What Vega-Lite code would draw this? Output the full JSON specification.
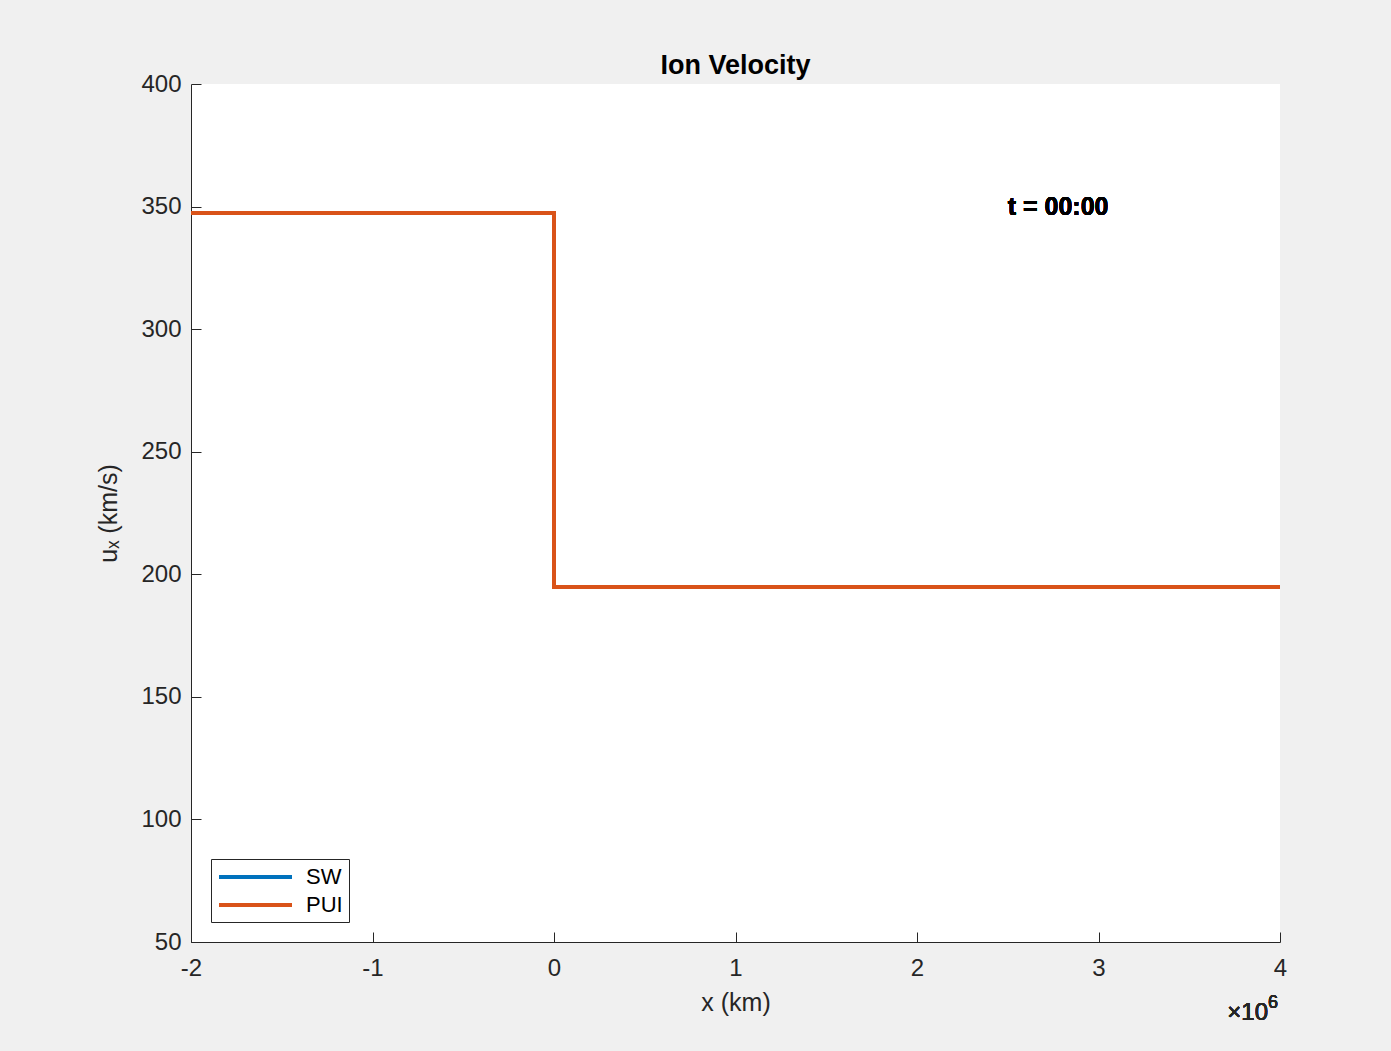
{
  "$schema": "https://vega.github.io/schema/vega-lite/v6.json",
  "width": 1089,
  "height": 858,
  "autosize": {"type": "none"},
  "padding": {"left": 191, "top": 84, "right": 111, "bottom": 109},
  "background": "#f0f0f0",
  "config": {
    "view": {"fill": "white", "stroke": null},
    "font": "Liberation Sans",
    "axis": {
      "grid": false,
      "domainColor": "#262626",
      "tickColor": "#262626",
      "labelColor": "#262626",
      "titleColor": "#262626",
      "labelFont": "Liberation Sans",
      "titleFont": "Liberation Sans",
      "labelFontSize": 24,
      "titleFontSize": 25,
      "titleFontWeight": "normal",
      "tickSize": -10,
      "domainWidth": 1,
      "tickWidth": 1
    }
  },
  "title": {
    "text": "Ion Velocity",
    "fontSize": 27,
    "fontWeight": "bold",
    "color": "#000000",
    "offset": -8,
    "font": "Liberation Sans"
  },
  "data": {
    "values": [
      {"series": "SW", "i": 1, "x": -2, "u": 347.4},
      {"series": "SW", "i": 2, "x": 0, "u": 347.4},
      {"series": "SW", "i": 3, "x": 0, "u": 194.8},
      {"series": "SW", "i": 4, "x": 4, "u": 194.8},
      {"series": "PUI", "i": 1, "x": -2, "u": 347.4},
      {"series": "PUI", "i": 2, "x": 0, "u": 347.4},
      {"series": "PUI", "i": 3, "x": 0, "u": 194.8},
      {"series": "PUI", "i": 4, "x": 4, "u": 194.8}
    ]
  },
  "layer": [
    {
      "mark": {"type": "line", "strokeWidth": 4, "strokeJoin": "miter", "strokeCap": "butt"},
      "encoding": {
        "x": {
          "field": "x", "type": "quantitative",
          "scale": {"domain": [-2, 4], "nice": false, "zero": false},
          "axis": {"values": [-2, -1, 0, 1, 2, 3, 4], "labelExpr": "'' + datum.value", "title": "x (km)", "labelPadding": 24, "titlePadding": 10, "labelFlush": false}
        },
        "y": {
          "field": "u", "type": "quantitative",
          "scale": {"domain": [50, 400], "nice": false, "zero": false},
          "axis": {"values": [50, 100, 150, 200, 250, 300, 350, 400], "title": "uₓ (km/s)", "labelPadding": 20, "titlePadding": 19}
        },
        "color": {
          "field": "series", "type": "nominal",
          "scale": {"domain": ["SW", "PUI"], "range": ["#0072BD", "#D95319"]},
          "legend": {
            "title": null,
            "orient": "bottom-left",
            "offset": 20,
            "symbolType": "M-1,0H6.3",
            "symbolSize": 400,
            "symbolStrokeWidth": 4,
            "labelFontSize": 22,
            "labelColor": "#000000",
            "labelFont": "Liberation Sans",
            "fillColor": "white",
            "strokeColor": "#262626",
            "padding": 6,
            "rowPadding": 5,
            "labelOffset": 65
          }
        },
        "order": {"field": "i", "type": "quantitative"}
      }
    },
    {
      "mark": {"type": "text", "align": "left", "baseline": "middle", "fontSize": 25, "fontWeight": "bold", "color": "#000000", "font": "Liberation Sans"},
      "encoding": {
        "x": {"datum": 2.5},
        "y": {"datum": 350},
        "text": {"value": "t = 00:00"}
      }
    },
    {
      "mark": {"type": "text", "align": "right", "baseline": "middle", "dx": -12, "fontSize": 24, "fontWeight": "normal", "color": "#262626", "font": "Liberation Sans", "clip": false},
      "encoding": {
        "x": {"datum": 4},
        "y": {"datum": 21},
        "text": {"value": "×10"}
      }
    },
    {
      "mark": {"type": "text", "align": "left", "baseline": "middle", "dx": -12, "dy": -10, "fontSize": 18, "fontWeight": "normal", "color": "#262626", "font": "Liberation Sans", "clip": false},
      "encoding": {
        "x": {"datum": 4},
        "y": {"datum": 21},
        "text": {"value": "6"}
      }
    }
  ]
}
